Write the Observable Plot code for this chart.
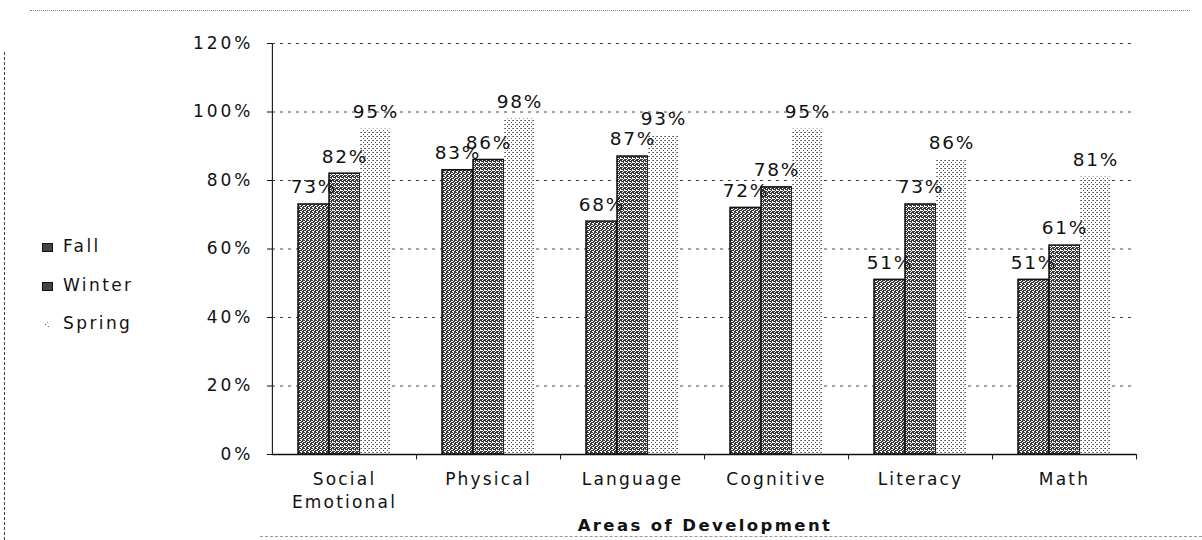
<!DOCTYPE html>
<html><head><meta charset="utf-8">
<script src="https://cdn.jsdelivr.net/npm/d3@7"></script>
<script src="https://cdn.jsdelivr.net/npm/@observablehq/plot@0.6"></script>
<style>
body{margin:0;background:#fff;}
#wrap{position:relative;width:1202px;height:540px;overflow:hidden;font-family:"DejaVu Sans",sans-serif;color:#111;}
#wrap svg g[aria-label="y-axis tick label"] text{letter-spacing:3px;}
#wrap svg g.vlab text{letter-spacing:1.8px;}
#wrap svg g.clab text{letter-spacing:2.2px;}
.ov{position:absolute;white-space:nowrap;}
#title{left:0;width:1202px;top:516px;text-align:center;font-weight:bold;font-size:16.5px;letter-spacing:2.4px;padding-left:208px;box-sizing:border-box;}
#legend{left:42px;top:227px;font-size:17px;letter-spacing:2.4px;line-height:38.5px;}
#legend .sw{display:inline-block;width:11px;height:9px;margin-right:10px;vertical-align:0px;}
#bTop{left:30px;top:10px;width:1160px;border-top:1px dotted #888;}
#bLeft{left:4px;top:52px;height:488px;border-left:1px dashed #444;}
#bBot{left:260px;top:536px;width:942px;border-top:1px dashed #999;}
</style></head><body><div id="wrap"></div>
<script>
const categories = ["Social Emotional","Physical","Language","Cognitive","Literacy","Math"];
const categoryLabels = ["Social\nEmotional","Physical","Language","Cognitive","Literacy","Math"];
const seasons = ["Fall","Winter","Spring"];
const fall = [0.73,0.83,0.68,0.72,0.51,0.51];
const winter = [0.82,0.86,0.87,0.78,0.73,0.61];
const spring = [0.95,0.98,0.93,0.95,0.86,0.81];
const yTicks = [0,0.2,0.4,0.6,0.8,1.0,1.2];
const axisTitle = "Areas of Development";

const W = 1202, H = 540, mL = 271, mR = 66, mT = 43, mB = 86;
const facetW = (W - mL - mR) / categories.length;

const series = {Fall: fall, Winter: winter, Spring: spring};
const table = [];
categories.forEach((c, i) => seasons.forEach(s => table.push({cat: c, season: s, value: series[s][i]})));
const fills = {Fall: "url(#pDark)", Winter: "url(#pDark2)", Spring: "url(#pLight)"};
const pct = d3.format(".0%");

const svg = Plot.plot({
  width: W, height: H,
  marginLeft: mL, marginRight: mR, marginTop: mT, marginBottom: mB,
  style: {fontFamily: "DejaVu Sans, sans-serif", color: "#111", background: "transparent"},
  fx: {domain: categories, padding: 0, axis: null, label: null},
  x: {domain: seasons, paddingInner: 0, paddingOuter: 0.77, axis: null},
  y: {domain: [0, 1.2], axis: null},
  marks: [
    Plot.ruleY(yTicks.filter(t => t > 0), {stroke: "#444", strokeDasharray: "3,5", strokeWidth: 1}),
    ...seasons.map(s => Plot.barY(table.filter(d => d.season === s), {
      fx: "cat", x: "season", y: "value", fill: fills[s],
      stroke: s === "Spring" ? "none" : "#111", strokeWidth: 1.5
    })),
    Plot.ruleY([0], {stroke: "#111", strokeWidth: 1.5}),
    Plot.ruleX([categories[0]], {fx: d => d, x: null, dx: -facetW / 2, y1: 0, y2: 1.2, stroke: "#222", strokeWidth: 1.2}),
    Plot.ruleX(categories, {fx: d => d, x: null, dx: facetW / 2, y1: 0, y2: -0.016, stroke: "#111"}),
    Plot.axisY({ticks: yTicks, tickFormat: pct, tickSize: 5, tickPadding: 14, fontSize: 17, label: null}),
    Plot.text(table, {fx: "cat", x: "season", y: "value", text: d => pct(d.value), dy: -17, fontSize: 18.5, fill: "#111", className: "vlab"}),
    Plot.text(categories, {fx: d => d, x: null, y: null, text: d => categoryLabels[categories.indexOf(d)],
      frameAnchor: "bottom", lineAnchor: "top", dy: 14, lineHeight: 1.35, fontSize: 17, fill: "#111", className: "clab"})
  ]
});

const defs = document.createElementNS("http://www.w3.org/2000/svg", "defs");
defs.innerHTML = `
<pattern id="pDark" width="4" height="4" patternUnits="userSpaceOnUse">
  <rect width="4" height="4" fill="#3a3a3a"/>
  <rect x="0" y="0" width="1" height="1" fill="#fff"/>
  <rect x="2" y="1" width="2" height="1" fill="#fff"/>
  <rect x="1" y="2" width="1" height="1" fill="#fff"/>
  <rect x="3" y="3" width="1" height="1" fill="#fff"/>
  <rect x="0" y="3" width="1" height="1" fill="#fff"/>
</pattern>
<pattern id="pDark2" width="4" height="4" patternUnits="userSpaceOnUse">
  <rect width="4" height="4" fill="#3a3a3a"/>
  <rect x="1" y="0" width="1" height="1" fill="#fff"/>
  <rect x="3" y="1" width="1" height="1" fill="#fff"/>
  <rect x="0" y="2" width="2" height="1" fill="#fff"/>
  <rect x="2" y="3" width="1" height="1" fill="#fff"/>
  <rect x="3" y="2" width="1" height="1" fill="#fff"/>
</pattern>
<pattern id="pLight" width="4" height="4" patternUnits="userSpaceOnUse">
  <rect width="4" height="4" fill="#fff"/>
  <rect x="0" y="0" width="1" height="1" fill="#555"/>
  <rect x="2" y="2" width="1" height="1" fill="#555"/>
  <rect x="3" y="0" width="1" height="1" fill="#888"/>
</pattern>`;
svg.prepend(defs);

const wrap = document.getElementById("wrap");
wrap.appendChild(svg);

const swatch = s => s === "Spring"
  ? `<span class="sw" style="background:url('data:image/svg+xml;utf8,<svg xmlns=%22http://www.w3.org/2000/svg%22 width=%2211%22 height=%229%22><rect x=%223%22 y=%224%22 width=%221%22 height=%221%22 fill=%22%23666%22/><rect x=%226%22 y=%226%22 width=%221%22 height=%221%22 fill=%22%23666%22/><rect x=%225%22 y=%222%22 width=%221%22 height=%221%22 fill=%22%23999%22/></svg>')"></span>`
  : `<span class="sw" style="background:#444;border:1px solid #111;box-sizing:border-box;"></span>`;
wrap.insertAdjacentHTML("beforeend", `
<div id="bTop" class="ov"></div><div id="bLeft" class="ov"></div><div id="bBot" class="ov"></div>
<div id="title" class="ov">${axisTitle}</div>
<div id="legend" class="ov">${seasons.map(s => `<div>${swatch(s)}${s}</div>`).join("")}</div>`);
</script>
</body></html>
